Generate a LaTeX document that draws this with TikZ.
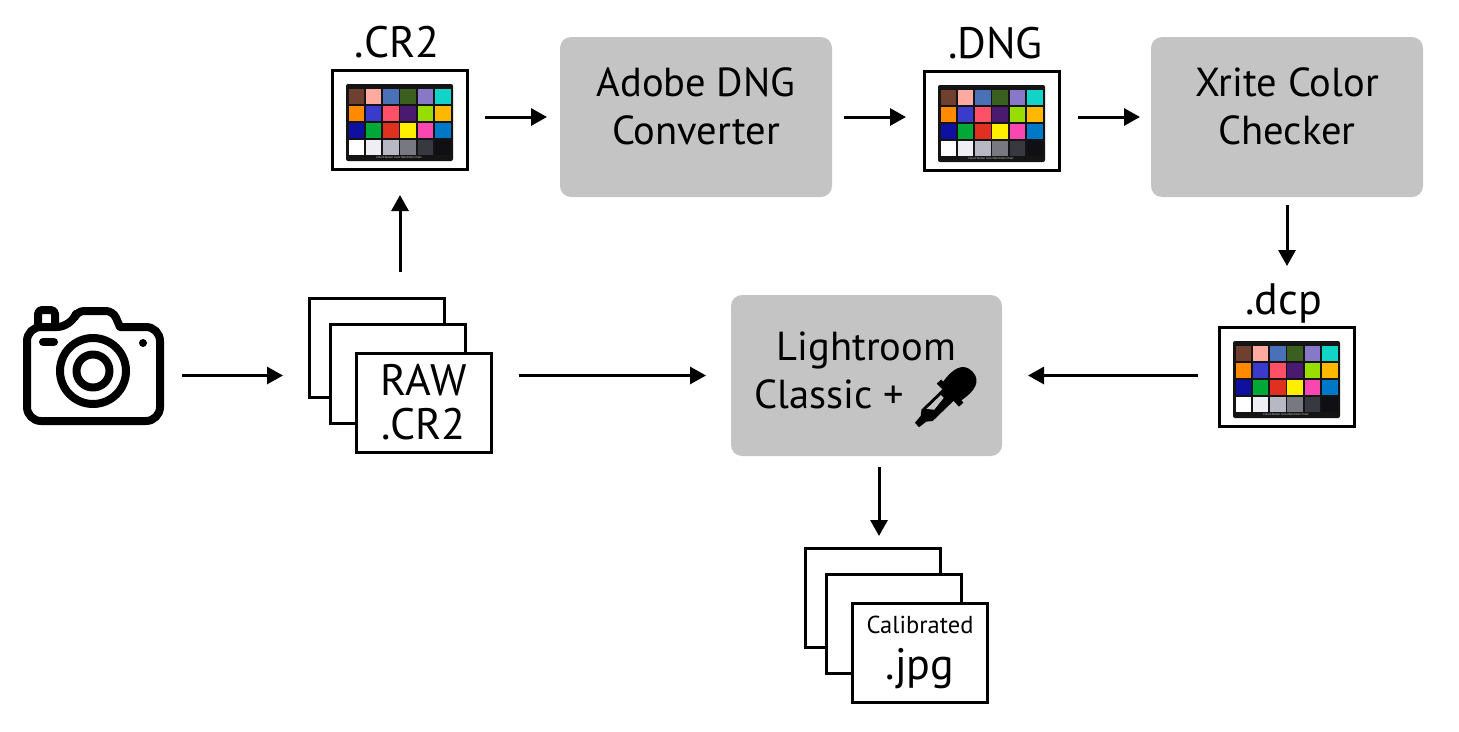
\documentclass[tikz,border=0pt]{standalone}
\usepackage{xcolor}
\usepackage{fontspec}
\setmainfont{PT Sans}
\usetikzlibrary{positioning,arrows.meta}
\definecolor{toolGray}{HTML}{C4C4C4}
\definecolor{ccA}{HTML}{6F4030}\definecolor{ccB}{HTML}{FFAAA0}\definecolor{ccC}{HTML}{4A70B8}
\definecolor{ccD}{HTML}{3B5F1E}\definecolor{ccE}{HTML}{8878C8}\definecolor{ccF}{HTML}{12D3C8}
\definecolor{ccG}{HTML}{FF8A00}\definecolor{ccH}{HTML}{3A3ACD}\definecolor{ccI}{HTML}{FF5068}
\definecolor{ccJ}{HTML}{4A1A70}\definecolor{ccK}{HTML}{98DC00}\definecolor{ccL}{HTML}{FFB800}
\definecolor{ccM}{HTML}{1010A0}\definecolor{ccN}{HTML}{00A838}\definecolor{ccO}{HTML}{E03020}
\definecolor{ccP}{HTML}{FFEE00}\definecolor{ccQ}{HTML}{F848B0}\definecolor{ccR}{HTML}{0078C8}
\definecolor{ccS}{HTML}{FFFFFF}\definecolor{ccT}{HTML}{EEEEF4}\definecolor{ccU}{HTML}{B8B8C4}
\definecolor{ccV}{HTML}{787880}\definecolor{ccW}{HTML}{383840}\definecolor{ccX}{HTML}{101014}
\newcommand{\bigtext}{\fontsize{40.5}{48}\selectfont}
\newcommand{\filetext}{\fontsize{44}{48}\selectfont}
\newcommand{\checker}[1]{
  \begin{scope}[shift={(#1.center)}]
    \fill[black!92, rounded corners=2pt] (-54,-36) rectangle (53,41);
    \foreach \row [count=\j from 0] in {{ccA,ccB,ccC,ccD,ccE,ccF},{ccG,ccH,ccI,ccJ,ccK,ccL},
                                        {ccM,ccN,ccO,ccP,ccQ,ccR},{ccS,ccT,ccU,ccV,ccW,ccX}}
      \foreach \col [count=\i from 0] in \row
        \fill[\col] (-51.5+17.3*\i,-31+17*\j) rectangle ++(15.6,15.4);
    \node[font=\fontsize{3}{3}\selectfont, text=white!85!black, inner sep=0pt] (#1cap) at (-1,37.8)
      {ColorChecker Color Rendition Chart};
  \end{scope}
}
\tikzset{
  tool/.style={fill=toolGray, rounded corners=11pt, minimum width=272pt, minimum height=160pt,
               align=center, font=\bigtext, inner sep=0pt, outer sep=0pt, text depth=21pt},
  frame/.style={draw, line width=3pt, fill=white, minimum width=135pt, minimum height=99pt,
                inner sep=0pt, outer sep=0pt},
  sheet/.style={draw, line width=3pt, fill=white, minimum width=135pt, minimum height=99pt,
                align=center, font=\filetext, inner sep=0pt, outer sep=0pt},
  tag/.style={font=\filetext, inner sep=0pt, outer sep=0pt, text depth=0pt},
  flow/.style={-{Triangle[length=16pt, width=17pt]}, line width=3pt},
  lens/.style={draw, line width=8pt, line join=round, line cap=round},
}

\begin{document}
\begin{tikzpicture}[x=1pt, y=-1pt]
  \useasboundingbox (0,0) rectangle (1459,731);

  \node[minimum width=141pt, minimum height=119pt, inner sep=0pt, outer sep=0pt] (cam) at (93.5,365.5) {};
  \node[sheet, right=145pt of cam, yshift=18pt] (rawa) {};
  \node[sheet, xshift=21pt, yshift=-26pt] (rawb) at (rawa) {};
  \node[sheet, xshift=26pt, yshift=-29pt] (rawc) at (rawb) {RAW\\[-4pt].CR2};

  \node[frame, above=128.5pt of rawa, xshift=23.5pt] (cr2) {};
  \node[tool, right=92.5pt of cr2, yshift=3pt] (adobe) {Adobe DNG\\Converter};
  \node[frame, right=92.5pt of adobe, yshift=-4pt] (dng) {};
  \node[tool, right=91.5pt of dng, yshift=4pt] (xrite) {Xrite Color\\Checker};
  \node[frame, below=130.5pt of xrite] (dcp) {};
  \node[tool, left=217.5pt of dcp, yshift=1.5pt, minimum width=271pt, minimum height=161pt, text depth=10pt] (lr)
    {Lightroom\\Classic +\hspace{74pt}\mbox{}};

  \node[tag, above=13.5pt of cr2, xshift=-3pt] (cr2tag) {.CR2};
  \node[tag, above=13.5pt of dng, xshift=3.5pt] (dngtag) {.DNG};
  \node[tag, above=13.5pt of dcp, xshift=-3.5pt] (dcptag) {.dcp};

  \node[sheet, below=92pt of lr, xshift=6.5pt] (jpga) {};
  \node[sheet, xshift=21pt, yshift=-26pt] (jpgb) at (jpga) {};
  \node[sheet, xshift=26pt, yshift=-29pt] (jpgc) at (jpgb)
    {{\fontsize{24.5}{26}\selectfont Calibrated}\\[-2pt].jpg};

  \checker{cr2}
  \checker{dng}
  \checker{dcp}

  % camera
  \draw[lens, rounded corners=14pt] (120,327) -- (160,327) -- (160,421) -- (27,421) -- (27,327) -- (71,327)
    [rounded corners=7pt] -- (77,311) -- (113,311) -- (120,327);
  \draw[lens, rounded corners=4pt] (38,325) -- (38,310) -- (55,310) -- (55,327);
  \draw[lens] (93,371) circle (33);
  \draw[lens] (93,371) circle (16.5);
  \draw[lens] (43,342) -- (54,342);
  \fill (143,343) circle (4);

  % dropper
  \begin{scope}[shift={(917,425)}, rotate=44]
    \fill (0,-3) -- (9,-4) -- (14,-8) -- (43,-8) -- (43,-16) -- (49,-16) -- (49,-13)
      .. controls (65,-16) and (77,-13) .. (77,0) .. controls (77,13) and (65,16) .. (49,13)
      -- (49,16) -- (43,16) -- (43,8) -- (14,8) -- (9,4) -- (0,3) -- cycle;
    \fill[toolGray] (18,-5) -- (38,-5) -- (38,-1) -- (23,1) -- cycle;
  \end{scope}

  \draw[flow, shorten <=18pt, shorten >=26pt] (cam.east |- lr.west) -- (rawa.west |- lr.west);
  \draw[flow, shorten <=27.5pt, shorten >=25pt] (rawc.east |- lr.west) -- (lr.west);
  \draw[flow, shorten <=21.5pt, shorten >=26pt] (dcp.west |- lr.east) -- (lr.east);
  \draw[flow, shorten <=11pt, shorten >=12pt] ([xshift=12.5pt]lr.south) -- ([xshift=6pt]jpga.north);
  \draw[flow, shorten <=26pt, shorten >=25.5pt] (cr2.south |- rawa.north) -- (cr2.south);
  \draw[flow, shorten <=17.5pt, shorten >=13pt] (cr2.east |- adobe.west) -- (adobe.west);
  \draw[flow, shorten <=12pt, shorten >=18.5pt] (adobe.east) -- (adobe.east -| dng.west);
  \draw[flow, shorten <=18.5pt, shorten >=11pt] (dng.east |- xrite.west) -- (xrite.west);
  \draw[flow, shorten <=8pt, shorten >=61.5pt] (xrite.south) -- (dcp.north);
\end{tikzpicture}
\end{document}
